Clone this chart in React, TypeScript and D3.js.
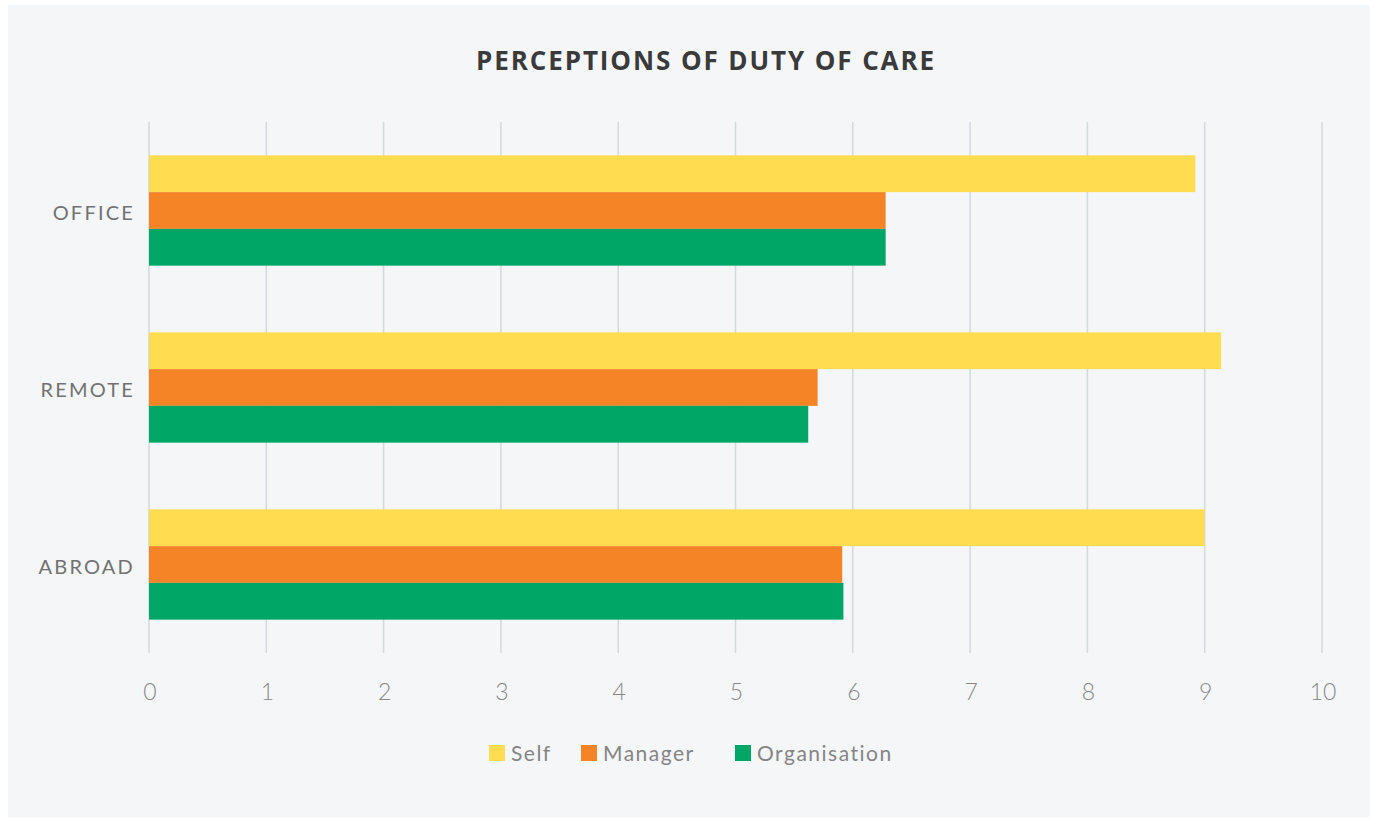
import * as d3 from "d3";
import React, { useEffect, useRef } from "react";

const categories = ["OFFICE", "REMOTE", "ABROAD"];
const seriesNames = ["Self", "Manager", "Organisation"];
const selfValues = [8.92, 9.14, 9.0];
const managerValues = [6.28, 5.7, 5.91];
const organisationValues = [6.28, 5.62, 5.92];
const xTicks = [0, 1, 2, 3, 4, 5, 6, 7, 8, 9, 10];
const colors = ["#FFDC50", "#F58426", "#00A665"];

const App = () => {
  const ref = useRef<SVGSVGElement>(null);

  useEffect(() => {
    const width = 1375;
    const height = 818;
    const svg = d3.select(ref.current);
    svg.selectAll("*").remove();

    // background panel
    svg.append("rect").attr("width", width).attr("height", height).attr("fill", "#ffffff");
    svg.append("rect")
      .attr("x", 8).attr("y", 5)
      .attr("width", 1362).attr("height", 812)
      .attr("fill", "#F4F6F8");

    const font = "Lato, 'Open Sans', sans-serif";

    // Scales
    const xScale = d3.scaleLinear().domain([0, 10]).range([149, 1322]);
    const yScale = d3.scaleBand().domain(categories).range([122, 653]).paddingInner(0.377).paddingOuter(0.1885);
    const inner = d3.scaleBand().domain(seriesNames).range([0, yScale.bandwidth()]);

    // Title
    svg.append("text")
      .attr("x", 706).attr("y", 70)
      .attr("text-anchor", "middle")
      .style("font-family", "'Open Sans', sans-serif")
      .style("font-weight", "700")
      .style("font-size", "26px")
      .style("letter-spacing", "1.9px")
      .style("fill", "#3A3A3A")
      .text("PERCEPTIONS OF DUTY OF CARE");

    // Grid
    svg.append("g")
      .selectAll("line")
      .data(xTicks)
      .join("line")
      .attr("x1", d => xScale(d)).attr("x2", d => xScale(d))
      .attr("y1", 122).attr("y2", 653)
      .attr("stroke", "#D3D9DD")
      .attr("stroke-width", 1.5);

    // Bars
    const data = [selfValues, managerValues, organisationValues];
    const groups = svg.append("g")
      .selectAll("g")
      .data(categories)
      .join("g")
      .attr("transform", d => `translate(0, ${yScale(d)})`);

    groups.selectAll("rect")
      .data((c) => seriesNames.map((s, si) => ({ s, v: data[si][categories.indexOf(c)], si })))
      .join("rect")
      .attr("x", xScale(0))
      .attr("y", d => inner(d.s)!)
      .attr("width", d => xScale(d.v) - xScale(0))
      .attr("height", inner.bandwidth())
      .attr("fill", d => colors[d.si]);

    // Category labels
    svg.append("g")
      .selectAll("text")
      .data(categories)
      .join("text")
      .attr("x", 135)
      .attr("y", d => yScale(d)! + yScale.bandwidth() / 2 + 2)
      .attr("dy", "0.35em")
      .attr("text-anchor", "end")
      .style("font-family", font)
      .style("font-size", "20px")
      .style("letter-spacing", "2.2px")
      .style("fill", "#727272")
      .text(d => d);

    // X tick labels
    svg.append("g")
      .selectAll("text")
      .data(xTicks)
      .join("text")
      .attr("x", d => xScale(d) + 1)
      .attr("y", 700)
      .attr("text-anchor", "middle")
      .style("font-family", font)
      .style("font-weight", "300")
      .style("font-size", "23px")
      .style("fill", "#888888")
      .text(d => d);

    // Legend
    const legendX = [489, 581, 735];
    const legend = svg.append("g")
      .selectAll("g")
      .data(seriesNames)
      .join("g")
      .attr("transform", (d, i) => `translate(${legendX[i]}, 745)`);
    legend.append("rect")
      .attr("width", 16).attr("height", 16)
      .attr("fill", (d, i) => colors[i]);
    legend.append("text")
      .attr("x", 22).attr("y", 9)
      .attr("dy", "0.35em")
      .style("font-family", font)
      .style("font-size", "21px")
      .style("letter-spacing", "1.5px")
      .style("fill", "#858585")
      .text(d => d);
  }, []);

  return (
    <svg ref={ref} width={1375} height={818} style={{ position: "absolute", left: 0, top: 0 }} />
  );
};

export default App;
